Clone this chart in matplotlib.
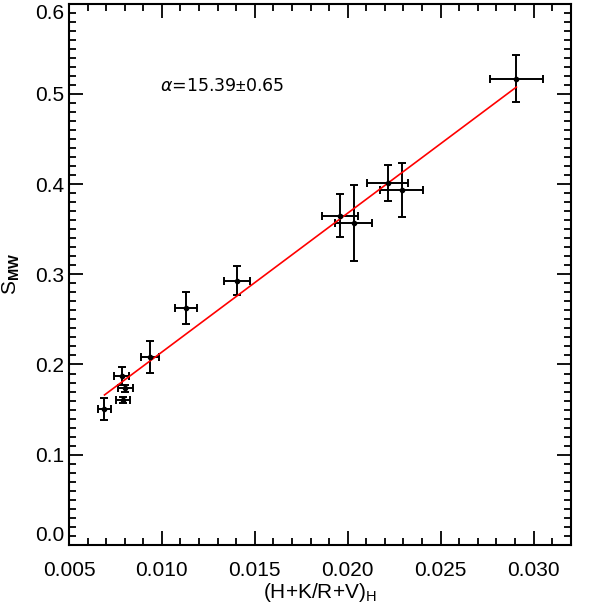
import numpy as np
import matplotlib
matplotlib.use('Agg')
import matplotlib.pyplot as plt
from matplotlib.ticker import MultipleLocator, FixedLocator

# data
x_vals = [0.00691, 0.00784, 0.00804, 0.00791, 0.00936, 0.01129, 0.01404,
          0.0196, 0.02033, 0.02215, 0.0229, 0.02908]
y_vals = [0.151, 0.187, 0.1737, 0.1607, 0.2085, 0.2626, 0.2926,
          0.3648, 0.357, 0.4015, 0.3933, 0.5167]
x_err = [0.00036, 0.0004, 0.0004, 0.00039, 0.00048, 0.00058, 0.00071,
         0.00098, 0.001, 0.0011, 0.00115, 0.00143]
y_err = [0.012, 0.010, 0.004, 0.003, 0.018, 0.0178, 0.016,
         0.024, 0.042, 0.020, 0.030, 0.026]

x_ticks = [0.005, 0.010, 0.015, 0.020, 0.025, 0.030]
y_ticks = [0.0, 0.1, 0.2, 0.3, 0.4, 0.5, 0.6]

alpha = 15.39
alpha_err = 0.65
intercept = 0.0599

plt.rcParams['font.family'] = ['Liberation Sans', 'DejaVu Sans']
plt.rcParams['mathtext.fontset'] = 'custom'
plt.rcParams['mathtext.rm'] = 'Liberation Sans'
plt.rcParams['mathtext.bf'] = 'Liberation Sans:bold'

fig = plt.figure(figsize=(5.98, 6.05), dpi=100)
ax = fig.add_axes([0.1154, 0.0992, 0.9543 - 0.1154, 0.9942 - 0.0992])

ax.errorbar(x_vals, y_vals, xerr=x_err, yerr=y_err, fmt='o', color='black',
            markersize=3, elinewidth=1.4, capsize=2.6, capthick=1.4)

x = np.array([min(x_vals), max(x_vals)])
ax.plot(x, alpha * x + intercept, color='red', linewidth=1.2)

ax.text(0.00991, 0.509, r'$\alpha$=' + f'{alpha:.2f}' + r'$\pm$' + f'{alpha_err:.2f}',
        fontsize=12.5, va='center', ha='left', family='DejaVu Sans')

ax.set_xlim(0.005, 0.032)
ax.set_ylim(0.0, 0.6)
ax.xaxis.set_major_locator(FixedLocator(x_ticks))
ax.xaxis.set_minor_locator(MultipleLocator(0.001))
ax.yaxis.set_major_locator(FixedLocator(y_ticks))
ax.yaxis.set_minor_locator(MultipleLocator(0.01))
ax.set_xticklabels([f'{v:.3f}' for v in x_ticks])
ax.set_yticklabels([f'{v:.1f}' for v in y_ticks])

ax.tick_params(which='both', direction='in', top=True, right=True, width=1.3,
               labelsize=15)
ax.tick_params(which='major', length=10)
ax.tick_params(which='minor', length=5)
ax.tick_params(axis='x', pad=11.5)
ax.tick_params(axis='y', pad=3.5)
for s in ax.spines.values():
    s.set_linewidth(1.5)

ax.set_xlabel(r'(H+K/R+V)$_\mathrm{H}$', fontsize=15, labelpad=1)
ax.set_ylabel(r'S$_\mathbf{MW}$', fontsize=15, labelpad=9)

# IDL style: end labels kept inside the axis range
for lab in ax.get_yticklabels():
    if lab.get_text() == '0.0':
        lab.set_va('bottom')
    elif lab.get_text() == '0.6':
        lab.set_va('top')

fig.savefig('out.png', dpi=100)
